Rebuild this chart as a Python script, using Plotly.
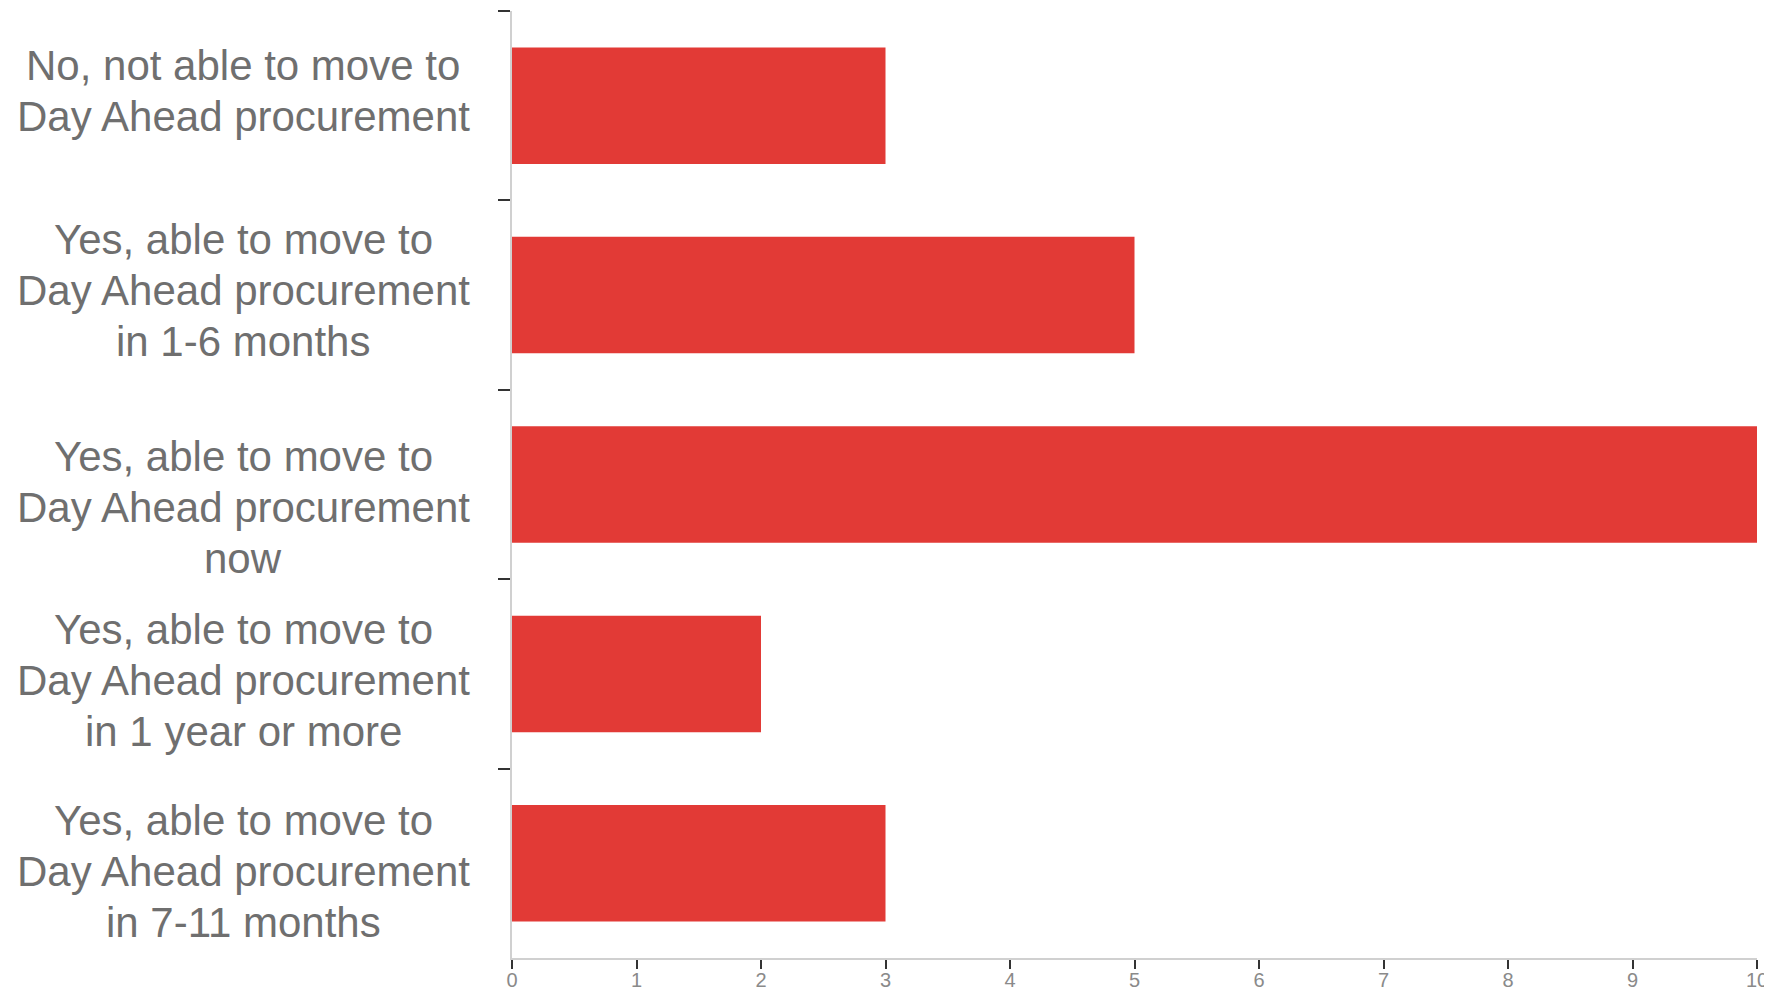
import plotly.graph_objects as go

categories = [
    "No, not able to move to<br>Day Ahead procurement",
    "Yes, able to move to<br>Day Ahead procurement<br>in 1-6 months",
    "Yes, able to move to<br>Day Ahead procurement<br>now",
    "Yes, able to move to<br>Day Ahead procurement<br>in 1 year or more",
    "Yes, able to move to<br>Day Ahead procurement<br>in 7-11 months",
]
values = [3, 5, 10, 2, 3]
x_ticks = [0, 1, 2, 3, 4, 5, 6, 7, 8, 9, 10]

fig = go.Figure(
    go.Bar(
        x=values,
        y=categories,
        orientation="h",
        marker=dict(color="#e23a36", line=dict(width=0)),
        width=0.615,
    )
)

# label layout (pixel offsets of the free-floating label blocks)
line_gap = 51
block_shift = [15, 5, -23, -7, -8]
annotations = []
for cat, shift in zip(categories, block_shift):
    lines = cat.split("<br>")
    n = len(lines)
    for i, ln in enumerate(lines):
        annotations.append(
            dict(
                xref="paper", yref="y", x=-0.216, y=cat,
                text=ln, showarrow=False, xanchor="center", yanchor="middle",
                yshift=((n - 1) / 2 - i) * line_gap + shift,
                font=dict(family="Arial, Liberation Sans, sans-serif", size=42, color="#6f6f6f"),
            )
        )

fig.update_layout(
    width=1764, height=985,
    margin=dict(l=504, r=15, t=3, b=35),
    paper_bgcolor="white", plot_bgcolor="white",
    showlegend=False,
    annotations=annotations,
    xaxis=dict(
        range=[0, 10], tickvals=x_ticks, ticktext=[str(v) for v in x_ticks],
        showgrid=False, zeroline=False, automargin=False,
        showline=True, linecolor="#d0d0d0", linewidth=1.5,
        ticks="outside", ticklen=9, tickcolor="#333333", tickwidth=1.5,
        ticklabelstandoff=-6,
        tickfont=dict(family="Liberation Sans Narrow, Arial Narrow, sans-serif", size=20, color="#8a8a8a"),
    ),
    yaxis=dict(
        autorange="reversed", showticklabels=False, automargin=False,
        showgrid=False, zeroline=False,
        showline=True, linecolor="#d0d0d0", linewidth=1.5,
        ticks="outside", tickson="boundaries", ticklen=12, tickcolor="#333333", tickwidth=2,
    ),
    bargap=0.385,
)

fig.write_html("out.html")
